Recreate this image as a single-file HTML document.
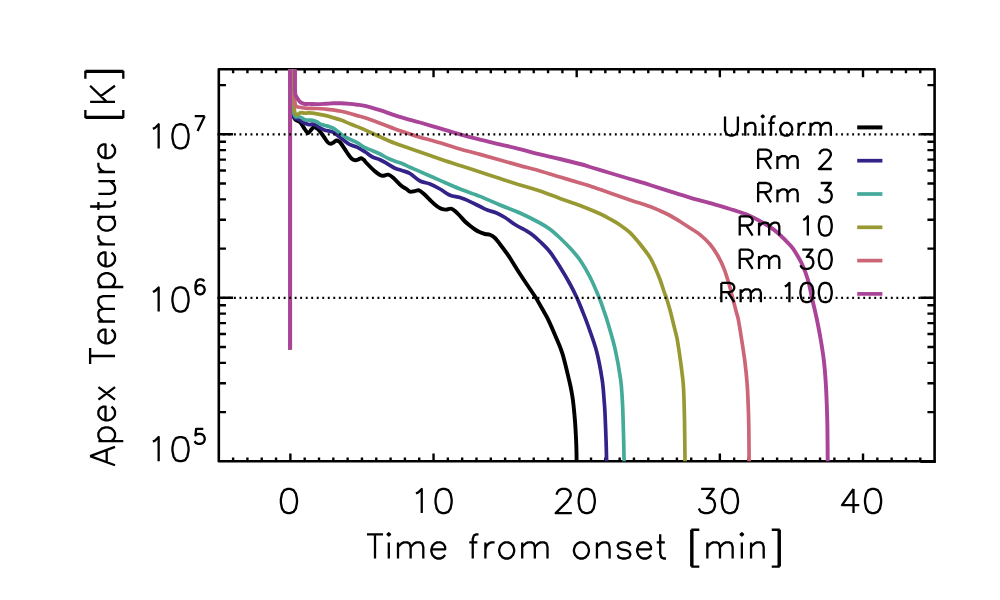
<!DOCTYPE html>
<html><head><meta charset="utf-8"><title>Apex Temperature</title>
<style>html,body{margin:0;padding:0;background:#fff;font-family:"Liberation Sans",sans-serif}svg{display:block}</style>
</head><body>
<svg width="1000" height="600" viewBox="0 0 1000 600">
<rect width="1000" height="600" fill="#fff"/>
<g fill="none" stroke="#000" stroke-linecap="butt" stroke-linejoin="round">
<rect x="218.8" y="69.3" width="715.8" height="392" stroke-width="2.6"/>
<path d="M233.12 461.3V457.38M233.12 69.3V73.22M247.43 461.3V457.38M247.43 69.3V73.22M261.75 461.3V457.38M261.75 69.3V73.22M276.06 461.3V457.38M276.06 69.3V73.22M290.38 461.3V453.46M290.38 69.3V77.14M304.7 461.3V457.38M304.7 69.3V73.22M319.01 461.3V457.38M319.01 69.3V73.22M333.33 461.3V457.38M333.33 69.3V73.22M347.64 461.3V457.38M347.64 69.3V73.22M361.96 461.3V457.38M361.96 69.3V73.22M376.28 461.3V457.38M376.28 69.3V73.22M390.59 461.3V457.38M390.59 69.3V73.22M404.91 461.3V457.38M404.91 69.3V73.22M419.22 461.3V457.38M419.22 69.3V73.22M433.54 461.3V453.46M433.54 69.3V77.14M447.86 461.3V457.38M447.86 69.3V73.22M462.17 461.3V457.38M462.17 69.3V73.22M476.49 461.3V457.38M476.49 69.3V73.22M490.8 461.3V457.38M490.8 69.3V73.22M505.12 461.3V457.38M505.12 69.3V73.22M519.44 461.3V457.38M519.44 69.3V73.22M533.75 461.3V457.38M533.75 69.3V73.22M548.07 461.3V457.38M548.07 69.3V73.22M562.38 461.3V457.38M562.38 69.3V73.22M576.7 461.3V453.46M576.7 69.3V77.14M591.02 461.3V457.38M591.02 69.3V73.22M605.33 461.3V457.38M605.33 69.3V73.22M619.65 461.3V457.38M619.65 69.3V73.22M633.96 461.3V457.38M633.96 69.3V73.22M648.28 461.3V457.38M648.28 69.3V73.22M662.6 461.3V457.38M662.6 69.3V73.22M676.91 461.3V457.38M676.91 69.3V73.22M691.23 461.3V457.38M691.23 69.3V73.22M705.54 461.3V457.38M705.54 69.3V73.22M719.86 461.3V453.46M719.86 69.3V77.14M734.18 461.3V457.38M734.18 69.3V73.22M748.49 461.3V457.38M748.49 69.3V73.22M762.81 461.3V457.38M762.81 69.3V73.22M777.12 461.3V457.38M777.12 69.3V73.22M791.44 461.3V457.38M791.44 69.3V73.22M805.76 461.3V457.38M805.76 69.3V73.22M820.07 461.3V457.38M820.07 69.3V73.22M834.39 461.3V457.38M834.39 69.3V73.22M848.7 461.3V457.38M848.7 69.3V73.22M863.02 461.3V453.46M863.02 69.3V77.14M877.34 461.3V457.38M877.34 69.3V73.22M891.65 461.3V457.38M891.65 69.3V73.22M905.97 461.3V457.38M905.97 69.3V73.22M920.28 461.3V457.38M920.28 69.3V73.22M218.8 412.08H225.96M934.6 412.08H927.44M218.8 383.29H225.96M934.6 383.29H927.44M218.8 362.86H225.96M934.6 362.86H927.44M218.8 347.02H225.96M934.6 347.02H927.44M218.8 334.07H225.96M934.6 334.07H927.44M218.8 323.13H225.96M934.6 323.13H927.44M218.8 313.64H225.96M934.6 313.64H927.44M218.8 305.28H225.96M934.6 305.28H927.44M218.8 297.8H233.12M934.6 297.8H920.28M218.8 248.58H225.96M934.6 248.58H927.44M218.8 219.79H225.96M934.6 219.79H927.44M218.8 199.36H225.96M934.6 199.36H927.44M218.8 183.52H225.96M934.6 183.52H927.44M218.8 170.57H225.96M934.6 170.57H927.44M218.8 159.63H225.96M934.6 159.63H927.44M218.8 150.14H225.96M934.6 150.14H927.44M218.8 141.78H225.96M934.6 141.78H927.44M218.8 134.3H233.12M934.6 134.3H920.28M218.8 85.08H225.96M934.6 85.08H927.44" stroke-width="2.4"/>
<path d="M920.28 461.65H935.9" stroke-width="2.6"/>
</g>
<defs><clipPath id="c"><rect x="218.8" y="69.3" width="715.8" height="392"/></clipPath></defs>
<g fill="none" stroke-width="3.7" stroke-linejoin="round" stroke-linecap="butt" clip-path="url(#c)">
<path d="M290.1 349.6L290.1 60L292.4 60L292.4 100L292.6 110C292.75 111 293.03 114.37 293.5 116C293.97 117.63 294.65 118.97 295.4 119.8C296.15 120.63 297.15 120.55 298 121C298.85 121.45 299.5 121.33 300.5 122.5C301.5 123.67 302.75 126.25 304 128C305.25 129.75 306.83 132.67 308 133C309.17 133.33 310 131 311 130C312 129 313 127.25 314 127C315 126.75 316 127.75 317 128.5C318 129.25 318.83 130.08 320 131.5C321.17 132.92 322.75 135.25 324 137C325.25 138.75 326.42 140.87 327.5 142C328.58 143.13 329.5 143.72 330.5 143.8C331.5 143.88 332.5 143.05 333.5 142.5C334.5 141.95 335.58 140.67 336.5 140.5C337.42 140.33 338.25 141 339 141.5C339.75 142 339.67 141.67 341 143.5C342.33 145.33 345.25 150 347 152.5C348.75 155 350.12 157.2 351.5 158.5C352.88 159.8 354.13 160.17 355.3 160.3C356.47 160.43 357.5 159.65 358.5 159.3C359.5 158.95 360.38 158.08 361.3 158.2C362.22 158.32 363.13 159.2 364 160C364.87 160.8 364.83 161.25 366.5 163C368.17 164.75 371.75 168.5 374 170.5C376.25 172.5 378.5 174.12 380 175C381.5 175.88 381.62 175.85 383 175.8C384.38 175.75 386.55 174.33 388.3 174.7C390.05 175.07 391.38 176.2 393.5 178C395.62 179.8 398.75 183.62 401 185.5C403.25 187.38 405.5 188.28 407 189.3C408.5 190.32 408.75 191.28 410 191.6C411.25 191.92 413 191.4 414.5 191.2C416 191 417.42 189.93 419 190.4C420.58 190.87 422.17 192.4 424 194C425.83 195.6 428 198.08 430 200C432 201.92 434.17 204.07 436 205.5C437.83 206.93 439.33 207.92 441 208.6C442.67 209.28 444.33 209.6 446 209.6C447.67 209.6 449.5 208.37 451 208.6C452.5 208.83 453.5 209.77 455 211C456.5 212.23 458.33 214.25 460 216C461.67 217.75 463.33 219.87 465 221.5C466.67 223.13 468.33 224.47 470 225.8C471.67 227.13 473.33 228.42 475 229.5C476.67 230.58 478.33 231.55 480 232.3C481.67 233.05 483.33 233.58 485 234C486.67 234.42 488.33 234.13 490 234.8C491.67 235.47 493.33 236.42 495 238C496.67 239.58 497.83 241.47 500 244.3C502.17 247.13 506.33 252.72 508 255C509.67 257.28 508 254.83 510 258C512 261.17 516.67 268.83 520 274C523.33 279.17 527.33 285 530 289C532.67 293 533.67 294.17 536 298C538.33 301.83 541.95 308.37 544 312C546.05 315.63 546.47 315.97 548.3 319.8C550.13 323.63 552.63 329.33 555 335C557.37 340.67 560.07 345.93 562.5 353.8C564.93 361.67 568.08 375.83 569.6 382.2C571.12 388.57 571.05 389.03 571.6 392C572.15 394.97 572.47 396.67 572.9 400C573.33 403.33 573.82 408 574.2 412C574.58 416 574.92 420 575.2 424C575.48 428 575.7 432 575.9 436C576.1 440 576.28 443.83 576.4 448C576.52 452.17 576.57 457.33 576.6 461C576.63 464.67 576.6 468.5 576.6 470" stroke="#000000" stroke-width="3.9"/>
<path d="M290.1 349.6L290.1 60L292.6 60L292.6 100L292.8 110C292.93 111 293.17 114.57 293.6 116C294.03 117.43 294.75 118.13 295.4 118.6C296.05 119.07 296.57 118.4 297.5 118.8C298.43 119.2 299.75 120.25 301 121C302.25 121.75 303.67 122.7 305 123.3C306.33 123.9 307.75 124.45 309 124.6C310.25 124.75 311.17 124 312.5 124.2C313.83 124.4 315.75 125.2 317 125.8C318.25 126.4 318.67 127.07 320 127.8C321.33 128.53 323.5 129.67 325 130.2C326.5 130.73 327.33 130.48 329 131C330.67 131.52 332.75 131.92 335 133.3C337.25 134.68 340 137.4 342.5 139.3C345 141.2 347.5 143.37 350 144.7C352.5 146.03 355 146.12 357.5 147.3C360 148.48 362.5 150.18 365 151.8C367.5 153.42 370 155.68 372.5 157C375 158.32 377.5 158.57 380 159.7C382.5 160.83 385 162.37 387.5 163.8C390 165.23 392.5 167.15 395 168.3C397.5 169.45 400 169.83 402.5 170.7C405 171.57 407.08 171.78 410 173.5C412.92 175.22 416.67 179.25 420 181C423.33 182.75 426.67 182.67 430 184C433.33 185.33 436.67 187.12 440 189C443.33 190.88 446.67 193.87 450 195.3C453.33 196.73 456.67 196.55 460 197.6C463.33 198.65 466.67 200.12 470 201.6C473.33 203.08 477 205.05 480 206.5C483 207.95 485.33 209.27 488 210.3C490.67 211.33 493.17 211.5 496 212.7C498.83 213.9 501.83 215.53 505 217.5C508.17 219.47 511.67 222.42 515 224.5C518.33 226.58 522.17 228.33 525 230C527.83 231.67 529.5 232.58 532 234.5C534.5 236.42 537 238.58 540 241.5C543 244.42 546.67 247.75 550 252C553.33 256.25 556.67 261.67 560 267C563.33 272.33 567.17 278.83 570 284C572.83 289.17 575 293.67 577 298C579 302.33 580.17 305.42 582 310C583.83 314.58 585.58 318.67 588 325.5C590.42 332.33 594.15 342.03 596.5 351C598.85 359.97 600.83 371.13 602.1 379.3C603.37 387.47 603.62 394.33 604.1 400C604.58 405.67 604.67 406.37 605 413.3C605.33 420.23 605.83 433.65 606.1 441.6C606.37 449.55 606.5 456.27 606.6 461C606.7 465.73 606.68 468.5 606.7 470" stroke="#332288"/>
<path d="M290.1 349.6L290.1 60L292.9 60L292.9 100L293 108C293.17 109 293.58 112.57 294 114C294.42 115.43 294.92 116.15 295.5 116.6C296.08 117.05 296.58 116.57 297.5 116.7C298.42 116.83 299.75 116.88 301 117.4C302.25 117.92 303.67 119.33 305 119.8C306.33 120.27 307.75 120.12 309 120.2C310.25 120.28 311.17 120.03 312.5 120.3C313.83 120.57 315.75 121.18 317 121.8C318.25 122.42 318.67 123.38 320 124C321.33 124.62 323.5 125.08 325 125.5C326.5 125.92 327.33 125.87 329 126.5C330.67 127.13 332.75 127.83 335 129.3C337.25 130.77 340 133.63 342.5 135.3C345 136.97 347.5 138.05 350 139.3C352.5 140.55 355 141.4 357.5 142.8C360 144.2 362.5 146.38 365 147.7C367.5 149.02 370 149.65 372.5 150.7C375 151.75 377.5 152.75 380 154C382.5 155.25 385 157 387.5 158.2C390 159.4 392.5 160.27 395 161.2C397.5 162.13 400 162.78 402.5 163.8C405 164.82 407.08 166 410 167.3C412.92 168.6 415 169.42 420 171.6C425 173.78 433.33 177.5 440 180.4C446.67 183.3 453.33 186.33 460 189C466.67 191.67 473.33 193.73 480 196.4C486.67 199.07 493.33 202.23 500 205C506.67 207.77 513.33 210 520 213C526.67 216 535 220.28 540 223C545 225.72 546.67 226.8 550 229.3C553.33 231.8 556.67 234.88 560 238C563.33 241.12 566.67 244.33 570 248C573.33 251.67 576.67 255.17 580 260C583.33 264.83 586.78 270.67 590 277C593.22 283.33 597.03 292.5 599.3 298C601.57 303.5 602.18 305.88 603.6 310C605.02 314.12 605.92 316.33 607.8 322.7C609.68 329.07 612.77 338.77 614.9 348.2C617.03 357.63 619.37 370.67 620.6 379.3C621.83 387.93 621.92 394.33 622.3 400C622.68 405.67 622.67 406.37 622.9 413.3C623.13 420.23 623.5 433.65 623.7 441.6C623.9 449.55 624.02 456.27 624.1 461C624.18 465.73 624.18 468.5 624.2 470" stroke="#44AA99"/>
<path d="M290.1 349.6L290.1 60L294 60L294 98L294.1 105C294.17 106 294.25 109.5 294.5 111C294.75 112.5 295.18 113.37 295.6 114C296.02 114.63 296.43 114.87 297 114.8C297.57 114.73 298.33 113.95 299 113.6C299.67 113.25 300 112.77 301 112.7C302 112.63 303.67 113.17 305 113.2C306.33 113.23 307 112.8 309 112.9C311 113 314.33 113.38 317 113.8C319.67 114.22 322.33 114.77 325 115.4C327.67 116.03 330.33 116.82 333 117.6C335.67 118.38 338.33 119.13 341 120.1C343.67 121.07 346.33 122.32 349 123.4C351.67 124.48 354.33 125.52 357 126.6C359.67 127.68 361.17 128.2 365 129.9C368.83 131.6 375 134.57 380 136.8C385 139.03 390 141.33 395 143.3C400 145.27 405.83 147.15 410 148.6C414.17 150.05 415 150.27 420 152C425 153.73 433.33 156.73 440 159C446.67 161.27 453.33 163.43 460 165.6C466.67 167.77 473.33 169.87 480 172C486.67 174.13 493.33 176.23 500 178.4C506.67 180.57 513.33 182.9 520 185C526.67 187.1 533.33 188.75 540 191C546.67 193.25 553.33 196.08 560 198.5C566.67 200.92 573.33 202.95 580 205.5C586.67 208.05 595 211.55 600 213.8C605 216.05 606.67 217.13 610 219C613.33 220.87 616.67 222.73 620 225C623.33 227.27 626.67 229.43 630 232.6C633.33 235.77 636.67 239.85 640 244C643.33 248.15 647.5 253.58 650 257.5C652.5 261.42 653.33 263.83 655 267.5C656.67 271.17 658.5 275.5 660 279.5C661.5 283.5 662.93 288.42 664 291.5C665.07 294.58 665.4 294.92 666.4 298C667.4 301.08 668.9 306 670 310C671.1 314 672 318 673 322C674 326 675.25 330.83 676 334C676.75 337.17 676.73 336.38 677.5 341C678.27 345.62 679.65 354.65 680.6 361.7C681.55 368.75 682.63 376.92 683.2 383.3C683.77 389.68 683.78 393.88 684 400C684.22 406.12 684.33 409.83 684.5 420C684.67 430.17 684.92 452.67 685 461C685.08 469.33 685 468.5 685 470" stroke="#999933"/>
<path d="M290.1 349.6L290.1 60L294.6 60L294.6 92L294.7 98C294.75 98.83 294.82 101.68 295 103C295.18 104.32 295.47 105.27 295.8 105.9C296.13 106.53 296.13 106.53 297 106.8C297.87 107.07 299.67 107.27 301 107.5C302.33 107.73 303.67 108.07 305 108.2C306.33 108.33 307 108.25 309 108.3C311 108.35 314.33 108.38 317 108.5C319.67 108.62 322.33 108.78 325 109C327.67 109.22 330.33 109.43 333 109.8C335.67 110.17 338.33 110.63 341 111.2C343.67 111.77 346.33 112.47 349 113.2C351.67 113.93 354.33 114.83 357 115.6C359.67 116.37 361.17 116.53 365 117.8C368.83 119.07 375 121.35 380 123.2C385 125.05 390 127.1 395 128.9C400 130.7 405.83 132.62 410 134C414.17 135.38 415 135.73 420 137.2C425 138.67 433.33 140.83 440 142.8C446.67 144.77 453.33 147.07 460 149C466.67 150.93 473.33 152.57 480 154.4C486.67 156.23 493.33 158.13 500 160C506.67 161.87 513.33 163.77 520 165.6C526.67 167.43 533.33 169.1 540 171C546.67 172.9 553.33 175 560 177C566.67 179 575 181.5 580 183C585 184.5 585 184.33 590 186C595 187.67 603.33 190.68 610 193C616.67 195.32 623.33 197.63 630 199.9C636.67 202.17 645 204.8 650 206.6C655 208.4 656.67 209.22 660 210.7C663.33 212.18 666.67 213.7 670 215.5C673.33 217.3 676.67 219.42 680 221.5C683.33 223.58 686.67 225.82 690 228C693.33 230.18 696.67 231.88 700 234.6C703.33 237.32 707 240.73 710 244.3C713 247.87 715.67 251.95 718 256C720.33 260.05 722.17 263.93 724 268.6C725.83 273.27 727.55 279.1 729 284C730.45 288.9 731.48 293.33 732.7 298C733.92 302.67 735.35 308.33 736.3 312C737.25 315.67 737.5 315.33 738.4 320C739.3 324.67 740.62 333.05 741.7 340C742.78 346.95 744 354.48 744.9 361.7C745.8 368.92 746.55 376.08 747.1 383.3C747.65 390.52 747.92 397.77 748.2 405C748.48 412.23 748.65 417.37 748.8 426.7C748.95 436.03 749.05 453.78 749.1 461C749.15 468.22 749.1 468.5 749.1 470" stroke="#CC6677"/>
<path d="M290.1 349.6L290.1 60L295 60L295 88L295.1 92C295.2 92.58 295.28 94.4 295.7 95.5C296.12 96.6 296.95 97.62 297.6 98.6C298.25 99.58 298.9 100.67 299.6 101.4C300.3 102.13 300.9 102.57 301.8 103C302.7 103.43 303.8 103.85 305 104C306.2 104.15 307 103.88 309 103.9C311 103.92 314.33 104.12 317 104.1C319.67 104.08 322.33 103.93 325 103.8C327.67 103.67 330.33 103.38 333 103.3C335.67 103.22 338.17 103.2 341 103.3C343.83 103.4 347.33 103.67 350 103.9C352.67 104.13 354.5 104.37 357 104.7C359.5 105.03 361.17 104.98 365 105.9C368.83 106.82 375 108.63 380 110.2C385 111.77 390 113.7 395 115.3C400 116.9 405.83 118.6 410 119.8C414.17 121 415 121.07 420 122.5C425 123.93 433.33 126.42 440 128.4C446.67 130.38 453.33 132.53 460 134.4C466.67 136.27 473.33 137.93 480 139.6C486.67 141.27 493.33 142.8 500 144.4C506.67 146 513.33 147.53 520 149.2C526.67 150.87 533.33 152.77 540 154.4C546.67 156.03 553.33 157.4 560 159C566.67 160.6 575 162.67 580 164C585 165.33 585 165.5 590 167C595 168.5 603.33 171 610 173C616.67 175 623.33 177 630 179C636.67 181 643.33 182.93 650 185C656.67 187.07 663.33 189.3 670 191.4C676.67 193.5 683.33 195.63 690 197.6C696.67 199.57 703.33 201.3 710 203.2C716.67 205.1 723.33 206.87 730 209C736.67 211.13 743.33 213 750 216C756.67 219 765 223.83 770 227C775 230.17 776.67 232 780 235C783.33 238 787.67 242.5 790 245C792.33 247.5 792 246.83 794 250C796 253.17 799.67 259 802 264C804.33 269 806.33 274.33 808 280C809.67 285.67 810.5 291.33 812 298C813.5 304.67 815.53 313 817 320C818.47 327 819.63 333.05 820.8 340C821.97 346.95 823.17 354.48 824 361.7C824.83 368.92 825.33 376.08 825.8 383.3C826.27 390.52 826.53 397.77 826.8 405C827.07 412.23 827.25 417.37 827.4 426.7C827.55 436.03 827.65 453.78 827.7 461C827.75 468.22 827.7 468.5 827.7 470" stroke="#AA4499" stroke-width="3.9"/>
</g>
<path d="M217.4 297.8H934.6" fill="none" stroke="#000" stroke-width="2.2" stroke-dasharray="1.9 3.62"/>
<path d="M217.4 134.3H934.6" fill="none" stroke="#000" stroke-width="2.2" stroke-dasharray="1.9 3.62"/>
<g fill="none" stroke="#000" stroke-width="2.3" stroke-linecap="butt" stroke-linejoin="round">
<path d="M287.78 488.95L284.33 490.1L282.03 493.55L280.88 499.3L280.88 502.75L282.03 508.5L284.33 511.95L287.78 513.1L290.08 513.1L293.53 511.95L295.83 508.5L296.98 502.75L296.98 499.3L295.83 493.55L293.53 490.1L290.08 488.95ZM415.99 493.55L418.29 492.4L421.74 488.95L421.74 513.1M442.44 488.95L438.99 490.1L436.69 493.55L435.54 499.3L435.54 502.75L436.69 508.5L438.99 511.95L442.44 513.1L444.74 513.1L448.19 511.95L450.49 508.5L451.64 502.75L451.64 499.3L450.49 493.55L448.19 490.1L444.74 488.95ZM556.85 494.7L556.85 493.55L558 491.25L559.15 490.1L561.45 488.95L566.05 488.95L568.35 490.1L569.5 491.25L570.65 493.55L570.65 495.85L569.5 498.15L567.2 501.6L555.7 513.1L571.8 513.1M585.6 488.95L582.15 490.1L579.85 493.55L578.7 499.3L578.7 502.75L579.85 508.5L582.15 511.95L585.6 513.1L587.9 513.1L591.35 511.95L593.65 508.5L594.8 502.75L594.8 499.3L593.65 493.55L591.35 490.1L587.9 488.95ZM701.16 488.95L713.81 488.95L706.91 498.15L710.36 498.15L712.66 499.3L713.81 500.45L714.96 503.9L714.96 506.2L713.81 509.65L711.51 511.95L708.06 513.1L704.61 513.1L701.16 511.95L700.01 510.8L698.86 508.5M728.76 488.95L725.31 490.1L723.01 493.55L721.86 499.3L721.86 502.75L723.01 508.5L725.31 511.95L728.76 513.1L731.06 513.1L734.51 511.95L736.81 508.5L737.96 502.75L737.96 499.3L736.81 493.55L734.51 490.1L731.06 488.95ZM853.52 488.95L842.02 505.05L859.27 505.05M853.52 488.95L853.52 513.1M871.92 488.95L868.47 490.1L866.17 493.55L865.02 499.3L865.02 502.75L866.17 508.5L868.47 511.95L871.92 513.1L874.22 513.1L877.67 511.95L879.97 508.5L881.12 502.75L881.12 499.3L879.97 493.55L877.67 490.1L874.22 488.95ZM152.9 128.85L155.2 127.7L158.65 124.25L158.65 148.4M179.35 124.25L175.9 125.4L173.6 128.85L172.45 134.6L172.45 138.05L173.6 143.8L175.9 147.25L179.35 148.4L181.65 148.4L185.1 147.25L187.4 143.8L188.55 138.05L188.55 134.6L187.4 128.85L185.1 125.4L181.65 124.25ZM204.72 116.13L197.59 131.1M194.74 116.13L204.72 116.13M152.9 292.05L155.2 290.9L158.65 287.45L158.65 311.6M179.35 287.45L175.9 288.6L173.6 292.05L172.45 297.8L172.45 301.25L173.6 307L175.9 310.45L179.35 311.6L181.65 311.6L185.1 310.45L187.4 307L188.55 301.25L188.55 297.8L187.4 292.05L185.1 288.6L181.65 287.45ZM204.01 281.47L203.29 280.04L201.16 279.33L199.73 279.33L197.59 280.04L196.16 282.18L195.45 285.74L195.45 289.31L196.16 292.16L197.59 293.59L199.73 294.3L200.44 294.3L202.58 293.59L204.01 292.16L204.72 290.02L204.72 289.31L204.01 287.17L202.58 285.74L200.44 285.03L199.73 285.03L197.59 285.74L196.16 287.17L195.45 289.31M152.9 441.65L155.2 440.5L158.65 437.05L158.65 461.2M179.35 437.05L175.9 438.2L173.6 441.65L172.45 447.4L172.45 450.85L173.6 456.6L175.9 460.05L179.35 461.2L181.65 461.2L185.1 460.05L187.4 456.6L188.55 450.85L188.55 447.4L187.4 441.65L185.1 438.2L181.65 437.05ZM203.29 428.93L196.16 428.93L195.45 435.34L196.16 434.63L198.3 433.92L200.44 433.92L202.58 434.63L204.01 436.06L204.72 438.2L204.72 439.62L204.01 441.76L202.58 443.19L200.44 443.9L198.3 443.9L196.16 443.19L195.45 442.47L194.74 441.05M375 534.35L375 558.5M366.95 534.35L383.05 534.35M387.65 534.35L388.8 535.5L389.95 534.35L388.8 533.2ZM388.8 542.4L388.8 558.5M398 542.4L398 558.5M398 547L401.45 543.55L403.75 542.4L407.2 542.4L409.5 543.55L410.65 547L410.65 558.5M410.65 547L414.1 543.55L416.4 542.4L419.85 542.4L422.15 543.55L423.3 547L423.3 558.5M431.35 549.3L445.15 549.3L445.15 547L444 544.7L442.85 543.55L440.55 542.4L437.1 542.4L434.8 543.55L432.5 545.85L431.35 549.3L431.35 551.6L432.5 555.05L434.8 557.35L437.1 558.5L440.55 558.5L442.85 557.35L445.15 555.05M478.5 534.35L476.2 534.35L473.9 535.5L472.75 538.95L472.75 558.5M469.3 542.4L477.35 542.4M485.4 542.4L485.4 558.5M485.4 549.3L486.55 545.85L488.85 543.55L491.15 542.4L494.6 542.4M504.95 542.4L502.65 543.55L500.35 545.85L499.2 549.3L499.2 551.6L500.35 555.05L502.65 557.35L504.95 558.5L508.4 558.5L510.7 557.35L513 555.05L514.15 551.6L514.15 549.3L513 545.85L510.7 543.55L508.4 542.4ZM522.2 542.4L522.2 558.5M522.2 547L525.65 543.55L527.95 542.4L531.4 542.4L533.7 543.55L534.85 547L534.85 558.5M534.85 547L538.3 543.55L540.6 542.4L544.05 542.4L546.35 543.55L547.5 547L547.5 558.5M579.7 542.4L577.4 543.55L575.1 545.85L573.95 549.3L573.95 551.6L575.1 555.05L577.4 557.35L579.7 558.5L583.15 558.5L585.45 557.35L587.75 555.05L588.9 551.6L588.9 549.3L587.75 545.85L585.45 543.55L583.15 542.4ZM596.95 542.4L596.95 558.5M596.95 547L600.4 543.55L602.7 542.4L606.15 542.4L608.45 543.55L609.6 547L609.6 558.5M630.3 545.85L629.15 543.55L625.7 542.4L622.25 542.4L618.8 543.55L617.65 545.85L618.8 548.15L621.1 549.3L626.85 550.45L629.15 551.6L630.3 553.9L630.3 555.05L629.15 557.35L625.7 558.5L622.25 558.5L618.8 557.35L617.65 555.05M637.2 549.3L651 549.3L651 547L649.85 544.7L648.7 543.55L646.4 542.4L642.95 542.4L640.65 543.55L638.35 545.85L637.2 549.3L637.2 551.6L638.35 555.05L640.65 557.35L642.95 558.5L646.4 558.5L648.7 557.35L651 555.05M660.2 534.35L660.2 553.9L661.35 557.35L663.65 558.5L665.95 558.5M656.75 542.4L664.8 542.4M691.25 529.75L691.25 566.55M692.4 529.75L692.4 566.55M691.25 529.75L699.3 529.75M691.25 566.55L699.3 566.55M707.35 542.4L707.35 558.5M707.35 547L710.8 543.55L713.1 542.4L716.55 542.4L718.85 543.55L720 547L720 558.5M720 547L723.45 543.55L725.75 542.4L729.2 542.4L731.5 543.55L732.65 547L732.65 558.5M740.7 534.35L741.85 535.5L743 534.35L741.85 533.2ZM741.85 542.4L741.85 558.5M751.05 542.4L751.05 558.5M751.05 547L754.5 543.55L756.8 542.4L760.25 542.4L762.55 543.55L763.7 547L763.7 558.5M778.65 529.75L778.65 566.55M779.8 529.75L779.8 566.55M771.75 529.75L779.8 529.75M771.75 566.55L779.8 566.55M90.11 456.05L115 465.25M90.11 456.05L115 446.85M106.7 461.8L106.7 450.3M98.41 441.1L123.3 441.1M101.97 441.1L99.59 438.8L98.41 436.5L98.41 433.05L99.59 430.75L101.97 428.45L105.52 427.3L107.89 427.3L111.44 428.45L113.81 430.75L115 433.05L115 436.5L113.81 438.8L111.44 441.1M105.52 420.4L105.52 406.6L103.15 406.6L100.78 407.75L99.59 408.9L98.41 411.2L98.41 414.65L99.59 416.95L101.97 419.25L105.52 420.4L107.89 420.4L111.44 419.25L113.81 416.95L115 414.65L115 411.2L113.81 408.9L111.44 406.6M98.41 399.7L115 387.05M98.41 387.05L115 399.7M90.11 356L115 356M90.11 364.05L90.11 347.95M105.52 343.35L105.52 329.55L103.15 329.55L100.78 330.7L99.59 331.85L98.41 334.15L98.41 337.6L99.59 339.9L101.97 342.2L105.52 343.35L107.89 343.35L111.44 342.2L113.81 339.9L115 337.6L115 334.15L113.81 331.85L111.44 329.55M98.41 321.5L115 321.5M103.15 321.5L99.59 318.05L98.41 315.75L98.41 312.3L99.59 310L103.15 308.85L115 308.85M103.15 308.85L99.59 305.4L98.41 303.1L98.41 299.65L99.59 297.35L103.15 296.2L115 296.2M98.41 287L123.3 287M101.97 287L99.59 284.7L98.41 282.4L98.41 278.95L99.59 276.65L101.97 274.35L105.52 273.2L107.89 273.2L111.44 274.35L113.81 276.65L115 278.95L115 282.4L113.81 284.7L111.44 287M105.52 266.3L105.52 252.5L103.15 252.5L100.78 253.65L99.59 254.8L98.41 257.1L98.41 260.55L99.59 262.85L101.97 265.15L105.52 266.3L107.89 266.3L111.44 265.15L113.81 262.85L115 260.55L115 257.1L113.81 254.8L111.44 252.5M98.41 244.45L115 244.45M105.52 244.45L101.97 243.3L99.59 241L98.41 238.7L98.41 235.25M98.41 216.85L115 216.85M101.97 216.85L99.59 219.15L98.41 221.45L98.41 224.9L99.59 227.2L101.97 229.5L105.52 230.65L107.89 230.65L111.44 229.5L113.81 227.2L115 224.9L115 221.45L113.81 219.15L111.44 216.85M90.11 206.5L110.26 206.5L113.81 205.35L115 203.05L115 200.75M98.41 209.95L98.41 201.9M98.41 193.85L110.26 193.85L113.81 192.7L115 190.4L115 186.95L113.81 184.65L110.26 181.2M98.41 181.2L115 181.2M98.41 172L115 172M105.52 172L101.97 170.85L99.59 168.55L98.41 166.25L98.41 162.8M105.52 158.2L105.52 144.4L103.15 144.4L100.78 145.55L99.59 146.7L98.41 149L98.41 152.45L99.59 154.75L101.97 157.05L105.52 158.2L107.89 158.2L111.44 157.05L113.81 154.75L115 152.45L115 149L113.81 146.7L111.44 144.4M85.38 117.95L123.3 117.95M85.38 116.8L123.3 116.8M85.38 117.95L85.38 109.9M123.3 117.95L123.3 109.9M90.11 101.85L115 101.85M90.11 85.75L106.7 101.85M100.78 96.1L115 85.75M85.38 71.95L123.3 71.95M85.38 70.8L123.3 70.8M85.38 78.85L85.38 70.8M123.3 78.85L123.3 70.8M725.02 116.38L725.02 130.18L725.94 132.94L727.78 134.78L730.54 135.7L732.38 135.7L735.14 134.78L736.98 132.94L737.9 130.18L737.9 116.38M745.26 122.82L745.26 135.7M745.26 126.5L748.02 123.74L749.86 122.82L752.62 122.82L754.46 123.74L755.38 126.5L755.38 135.7M761.82 116.38L762.74 117.3L763.66 116.38L762.74 115.46ZM762.74 122.82L762.74 135.7M775.62 116.38L773.78 116.38L771.94 117.3L771.02 120.06L771.02 135.7M768.26 122.82L774.7 122.82M784.82 122.82L782.98 123.74L781.14 125.58L780.22 128.34L780.22 130.18L781.14 132.94L782.98 134.78L784.82 135.7L787.58 135.7L789.42 134.78L791.26 132.94L792.18 130.18L792.18 128.34L791.26 125.58L789.42 123.74L787.58 122.82ZM798.62 122.82L798.62 135.7M798.62 128.34L799.54 125.58L801.38 123.74L803.22 122.82L805.98 122.82M810.58 122.82L810.58 135.7M810.58 126.5L813.34 123.74L815.18 122.82L817.94 122.82L819.78 123.74L820.7 126.5L820.7 135.7M820.7 126.5L823.46 123.74L825.3 122.82L828.06 122.82L829.9 123.74L830.82 126.5L830.82 135.7M758.14 149.68L758.14 169M758.14 149.68L766.42 149.68L769.18 150.6L770.1 151.52L771.02 153.36L771.02 155.2L770.1 157.04L769.18 157.96L766.42 158.88L758.14 158.88M764.58 158.88L771.02 169M777.46 156.12L777.46 169M777.46 159.8L780.22 157.04L782.06 156.12L784.82 156.12L786.66 157.04L787.58 159.8L787.58 169M787.58 159.8L790.34 157.04L792.18 156.12L794.94 156.12L796.78 157.04L797.7 159.8L797.7 169M819.78 154.28L819.78 153.36L820.7 151.52L821.62 150.6L823.46 149.68L827.14 149.68L828.98 150.6L829.9 151.52L830.82 153.36L830.82 155.2L829.9 157.04L828.06 159.8L818.86 169L831.74 169M758.14 182.98L758.14 202.3M758.14 182.98L766.42 182.98L769.18 183.9L770.1 184.82L771.02 186.66L771.02 188.5L770.1 190.34L769.18 191.26L766.42 192.18L758.14 192.18M764.58 192.18L771.02 202.3M777.46 189.42L777.46 202.3M777.46 193.1L780.22 190.34L782.06 189.42L784.82 189.42L786.66 190.34L787.58 193.1L787.58 202.3M787.58 193.1L790.34 190.34L792.18 189.42L794.94 189.42L796.78 190.34L797.7 193.1L797.7 202.3M820.7 182.98L830.82 182.98L825.3 190.34L828.06 190.34L829.9 191.26L830.82 192.18L831.74 194.94L831.74 196.78L830.82 199.54L828.98 201.38L826.22 202.3L823.46 202.3L820.7 201.38L819.78 200.46L818.86 198.62M739.74 216.28L739.74 235.6M739.74 216.28L748.02 216.28L750.78 217.2L751.7 218.12L752.62 219.96L752.62 221.8L751.7 223.64L750.78 224.56L748.02 225.48L739.74 225.48M746.18 225.48L752.62 235.6M759.06 222.72L759.06 235.6M759.06 226.4L761.82 223.64L763.66 222.72L766.42 222.72L768.26 223.64L769.18 226.4L769.18 235.6M769.18 226.4L771.94 223.64L773.78 222.72L776.54 222.72L778.38 223.64L779.3 226.4L779.3 235.6M803.22 219.96L805.06 219.04L807.82 216.28L807.82 235.6M824.38 216.28L821.62 217.2L819.78 219.96L818.86 224.56L818.86 227.32L819.78 231.92L821.62 234.68L824.38 235.6L826.22 235.6L828.98 234.68L830.82 231.92L831.74 227.32L831.74 224.56L830.82 219.96L828.98 217.2L826.22 216.28ZM739.74 249.58L739.74 268.9M739.74 249.58L748.02 249.58L750.78 250.5L751.7 251.42L752.62 253.26L752.62 255.1L751.7 256.94L750.78 257.86L748.02 258.78L739.74 258.78M746.18 258.78L752.62 268.9M759.06 256.02L759.06 268.9M759.06 259.7L761.82 256.94L763.66 256.02L766.42 256.02L768.26 256.94L769.18 259.7L769.18 268.9M769.18 259.7L771.94 256.94L773.78 256.02L776.54 256.02L778.38 256.94L779.3 259.7L779.3 268.9M802.3 249.58L812.42 249.58L806.9 256.94L809.66 256.94L811.5 257.86L812.42 258.78L813.34 261.54L813.34 263.38L812.42 266.14L810.58 267.98L807.82 268.9L805.06 268.9L802.3 267.98L801.38 267.06L800.46 265.22M824.38 249.58L821.62 250.5L819.78 253.26L818.86 257.86L818.86 260.62L819.78 265.22L821.62 267.98L824.38 268.9L826.22 268.9L828.98 267.98L830.82 265.22L831.74 260.62L831.74 257.86L830.82 253.26L828.98 250.5L826.22 249.58ZM721.34 282.88L721.34 302.2M721.34 282.88L729.62 282.88L732.38 283.8L733.3 284.72L734.22 286.56L734.22 288.4L733.3 290.24L732.38 291.16L729.62 292.08L721.34 292.08M727.78 292.08L734.22 302.2M740.66 289.32L740.66 302.2M740.66 293L743.42 290.24L745.26 289.32L748.02 289.32L749.86 290.24L750.78 293L750.78 302.2M750.78 293L753.54 290.24L755.38 289.32L758.14 289.32L759.98 290.24L760.9 293L760.9 302.2M784.82 286.56L786.66 285.64L789.42 282.88L789.42 302.2M805.98 282.88L803.22 283.8L801.38 286.56L800.46 291.16L800.46 293.92L801.38 298.52L803.22 301.28L805.98 302.2L807.82 302.2L810.58 301.28L812.42 298.52L813.34 293.92L813.34 291.16L812.42 286.56L810.58 283.8L807.82 282.88ZM824.38 282.88L821.62 283.8L819.78 286.56L818.86 291.16L818.86 293.92L819.78 298.52L821.62 301.28L824.38 302.2L826.22 302.2L828.98 301.28L830.82 298.52L831.74 293.92L831.74 291.16L830.82 286.56L828.98 283.8L826.22 282.88Z"/>
</g>
<g fill="none" stroke-width="3.7" stroke-linecap="butt">
<path d="M857.2 127.4H882.4" stroke="#000000" stroke-width="4"/>
<path d="M857.2 160.7H882.4" stroke="#332288"/>
<path d="M857.2 194H882.4" stroke="#44AA99"/>
<path d="M857.2 227.3H882.4" stroke="#999933"/>
<path d="M857.2 260.6H882.4" stroke="#CC6677"/>
<path d="M857.2 293.9H882.4" stroke="#AA4499"/>
</g>
</svg>
</body></html>
